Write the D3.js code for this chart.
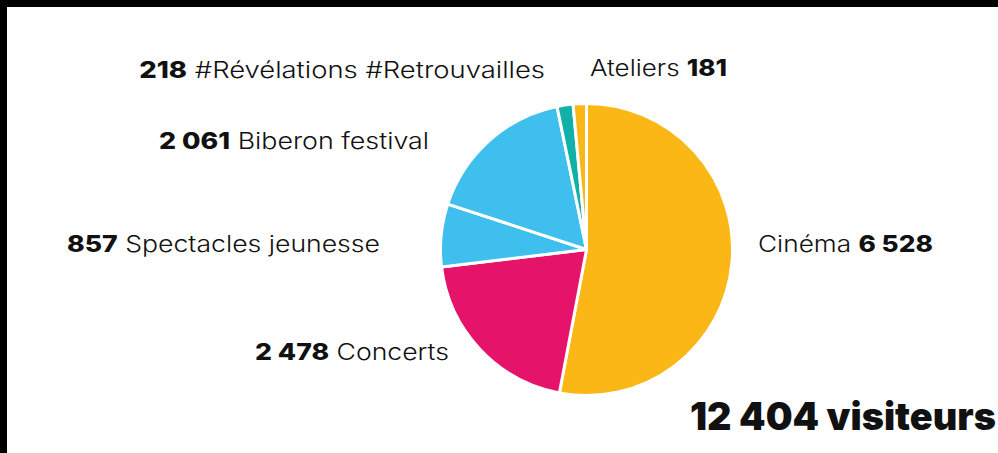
<!DOCTYPE html>
<html>
<head>
<meta charset="utf-8">
<script src="https://cdn.jsdelivr.net/npm/d3@7"></script>
<style>
  html, body { margin: 0; padding: 0; background: #fff; }
  svg { display: block; }
  text { font-family: Inter, "DejaVu Sans", sans-serif; fill: #111; }
</style>
</head>
<body>
<svg id="chart" width="998" height="453"></svg>
<script>
// ---- data ----
const categories = ["Cinéma", "Concerts", "Spectacles jeunesse", "Biberon festival", "#Révélations #Retrouvailles", "Ateliers"];
const values = [6528, 2478, 857, 2061, 218, 181];
const valueLabels = ["6 528", "2 478", "857", "2 061", "218", "181"];
const colors = ["#FBB715", "#E5136A", "#3EBFEE", "#3EBFEE", "#11B0A8", "#FBB715"];
const totalLabel = "12 404 visiteurs";

// ---- layout (positions/styles, separate from data) ----
const W = 998, H = 453;
const cx = 586.5, cy = 249.5, R = 146;
const labelLayout = [
  { x: 758, y: 252, anchor: "start", w: 175, numFirst: false },
  { x: 449, y: 360, anchor: "end",   w: 194, numFirst: true },
  { x: 380, y: 252, anchor: "end",   w: 313, numFirst: true },
  { x: 429, y: 149, anchor: "end",   w: 270, numFirst: true },
  { x: 545, y: 78,  anchor: "end",   w: 406, numFirst: true },
  { x: 590, y: 76,  anchor: "start", w: 137, numFirst: false }
];

const svg = d3.select("#chart");
svg.append("rect").attr("x", 0).attr("y", 0).attr("width", W).attr("height", H).attr("fill", "#fff");
svg.append("rect").attr("x", 0).attr("y", 0).attr("width", W).attr("height", 7).attr("fill", "#000");
svg.append("rect").attr("x", 0).attr("y", 0).attr("width", 7).attr("height", H).attr("fill", "#000");

const pie = d3.pie().sort(null).value(d => d)(values);
const arc = d3.arc().innerRadius(0).outerRadius(R);

const g = svg.append("g").attr("transform", `translate(${cx},${cy})`);
g.selectAll("path").data(pie).join("path")
  .attr("d", arc)
  .attr("fill", (d, i) => colors[i])
  .attr("stroke", "#fff")
  .attr("stroke-width", 3)
  .attr("stroke-linejoin", "round");

function fitText(sel, x, y, anchor, targetW) {
  const bw = sel.node().getComputedTextLength();
  const sx = targetW / bw;
  sel.attr("x", 0).attr("y", 0).attr("text-anchor", anchor)
     .attr("transform", `translate(${x},${y}) scale(${sx},1)`);
}

categories.forEach((c, i) => {
  const L = labelLayout[i];
  const t = svg.append("text").attr("font-size", 23);
  const addNum = () => t.append("tspan").attr("font-weight", 800).text(valueLabels[i]);
  const addCat = () => t.append("tspan").attr("font-weight", 300).text(c);
  if (L.numFirst) { addNum(); t.append("tspan").text(" "); addCat(); }
  else { addCat(); t.append("tspan").text(" "); addNum(); }
  fitText(t, L.x, L.y, L.anchor, L.w);
});

const title = svg.append("text").attr("font-size", 38).attr("font-weight", 900).attr("fill", "#000").text(totalLabel);
fitText(title, 690, 430, "start", 306);
</script>
</body>
</html>
